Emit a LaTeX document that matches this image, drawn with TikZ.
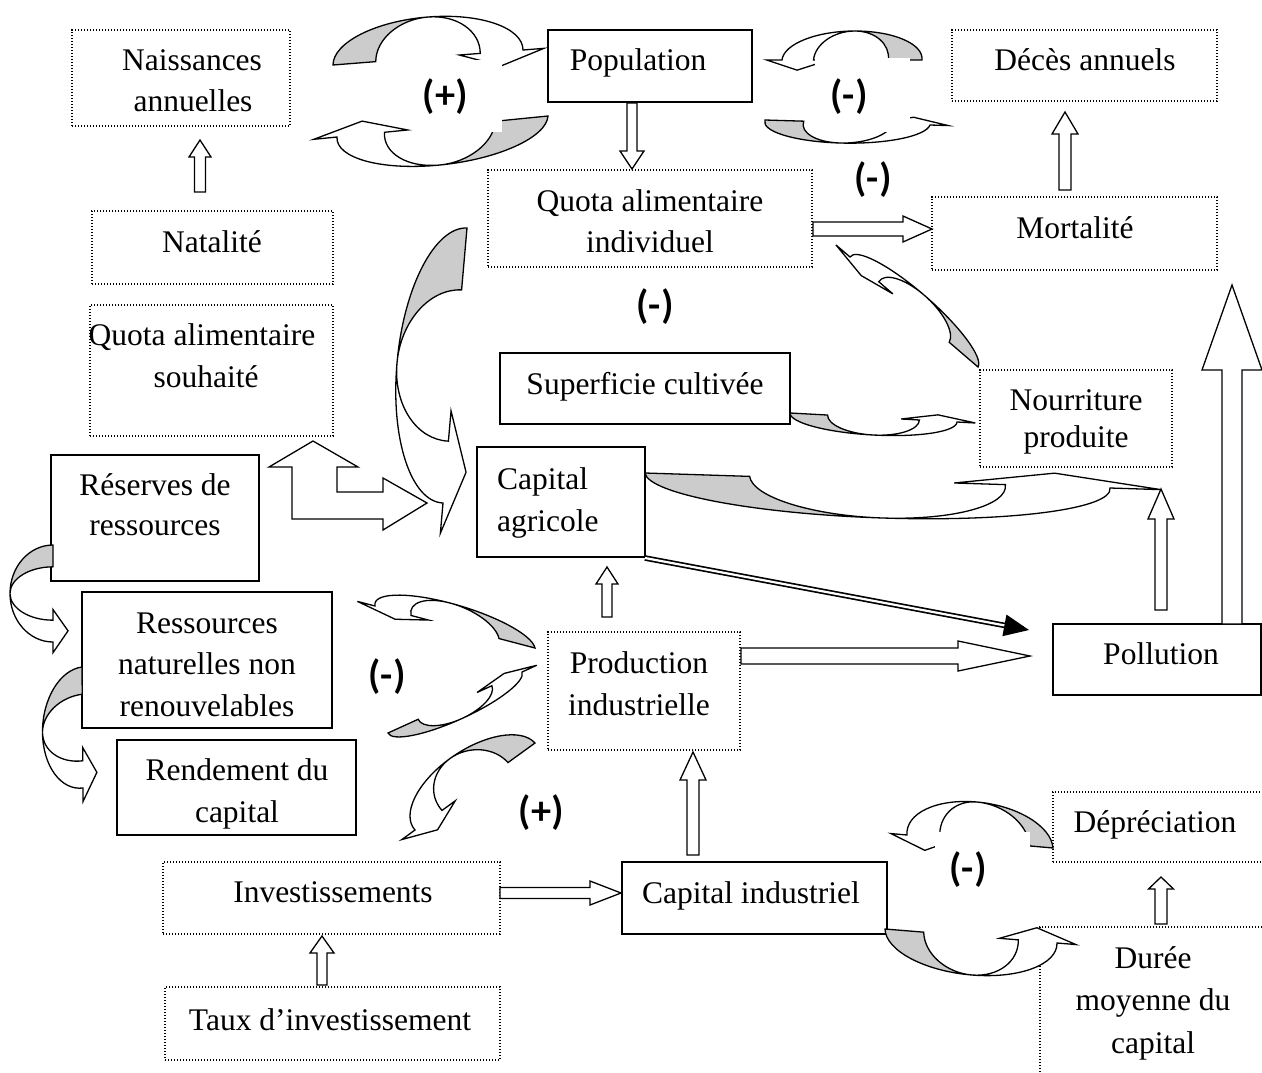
\documentclass[tikz,border=0pt]{standalone}
\usepackage{fontspec}
\setmainfont{Liberation Serif}
\newfontfamily\lblfont{Lato}
\usetikzlibrary{calc}
\definecolor{backgray}{RGB}{204,204,204}
\tikzset{
 sbox/.style={draw, line width=1.4pt, inner sep=0pt, outer sep=0pt},
 dbox/.style={draw, line width=1.3pt, dash pattern=on 1.3pt off 1.7pt, inner sep=0pt, outer sep=0pt},
 txt/.style={font=\fontsize{31.5}{41.5}\selectfont, inner sep=0pt, anchor=base},
 lbl/.style={font=\lblfont\fontsize{38}{44}\selectfont\bfseries, inner sep=0pt},
 cline/.style={line width=1.3pt, line join=miter},
 blockarr/.style={draw, fill=white, line width=1.3pt, line join=miter},
}
% box: style, x1, y1, x2, y2, name
\newcommand\bx[6]{\node[#1, minimum width={#4pt-#2pt}, minimum height={#5pt-#3pt}] (#6) at ({(#2+#4)/2},{(#3+#5)/2}) {};}
% straight block arrow: tail, tip, shaft half width, head half width, head length
\newcommand\blockarrow[5]{%
  \coordinate (ba-t) at (#1);
  \coordinate (ba-h) at (#2);
  \coordinate (ba-b) at ($(ba-h)!#5!(ba-t)$);
  \filldraw[blockarr] ($(ba-t)!#3!90:(ba-h)$) -- ($(ba-b)!#3!-90:(ba-t)$) -- ($(ba-b)!#4!-90:(ba-t)$) -- (ba-h) -- ($(ba-b)!#4!90:(ba-t)$) -- ($(ba-b)!#3!90:(ba-t)$) -- ($(ba-t)!#3!-90:(ba-h)$) -- cycle;
}
% curved (twisted) arrow: origin x, y (px), canvas matrix a b c d, inner tail position
\newcommand\carrow[7]{%
 \begin{scope}[x=1pt,y=1pt,cm={#3,#4,#5,#6,(#1pt,-#2pt)}]
  \filldraw[cline,fill=backgray] (-1,0) .. controls (-1,0.552) and (-0.552,1) .. (0,1) .. controls ({-0.552*#7},1) and ({-#7},0.552) .. ({-#7},0) -- cycle;
  \filldraw[cline,fill=white] (0,1) .. controls (0.552,1) and (1,0.552) .. (1,0) -- (1.22,0) -- (0.77,-0.35) -- (0.33,0) -- (0.55,0) .. controls (0.55,0.552) and (0.304,1) .. (0,1) -- cycle;
 \end{scope}}
\begin{document}
\begin{tikzpicture}[x=1pt,y=-1pt]
\useasboundingbox (0,0) rectangle (1262,1072);
\clip (0,0) rectangle (1262,1072);
\fill[white] (0,0) rectangle (1262,1072);

% ---------- boxes ----------
\bx{dbox}{72}{30}{290}{126}{nais}
\bx{sbox}{548}{30}{752}{102}{pop}
\bx{dbox}{952}{30}{1217}{101}{deces}
\bx{dbox}{488}{170}{812}{267}{qai}
\bx{dbox}{932}{197}{1217}{270}{mort}
\bx{dbox}{92}{211}{333}{284}{natal}
\bx{dbox}{90}{305}{333}{436}{qas}
\bx{sbox}{500}{353}{790}{424}{sup}
\bx{dbox}{980}{370}{1172}{467}{nour}
\bx{sbox}{51}{455}{259}{581}{reserv}
\bx{sbox}{477}{447}{645}{557}{cagri}
\bx{sbox}{82}{592}{332}{728}{rnnr}
\bx{dbox}{548}{632}{740}{750}{prod}
\bx{sbox}{1053}{624}{1261}{695}{pol}
\bx{sbox}{117}{740}{356}{835}{rend}
\bx{dbox}{163}{862}{500}{934}{invest}
\bx{sbox}{622}{862}{887}{934}{cind}
\bx{dbox}{1053}{792}{1300}{862}{depr}
\bx{dbox}{1040}{927}{1300}{1100}{duree}
\bx{dbox}{165}{987}{500}{1060}{taux}

% ---------- straight block arrows ----------
\blockarrow{632,103}{632,169}{5pt}{12pt}{18pt}
\blockarrow{200,192}{200,140}{5.5pt}{11pt}{17pt}
\blockarrow{1065,190}{1065,112}{6pt}{13pt}{22pt}
\blockarrow{813,229}{932,229}{7pt}{13pt}{29pt}
\blockarrow{607,617}{607,567}{5pt}{11pt}{17pt}
\blockarrow{693,855}{693,752}{6pt}{13pt}{28pt}
\blockarrow{500,893}{621,893}{5.5pt}{12pt}{31pt}
\blockarrow{322,985}{322,936}{5pt}{12pt}{17pt}
\blockarrow{1161,924}{1161,877}{6pt}{12.5pt}{12pt}
\blockarrow{741,656}{1030,656}{8pt}{15pt}{72pt}
\blockarrow{1161,610}{1161,489}{6pt}{13pt}{30pt}
\blockarrow{1232,624}{1232,285}{10pt}{30pt}{85pt}

% forked arrow
\filldraw[blockarr] (292,519) -- (292,467) -- (269,467) -- (313,441) -- (358,467) -- (337,467) -- (337,492) -- (383,492) -- (383,478) -- (427,503) -- (383,530) -- (383,519) -- cycle;

% double arrow Capital agricole -> Pollution
\coordinate (dtip) at (1029,630);
\coordinate (dstart) at ($(cagri.south east)+(0,1)$);
\draw[line width=1.7pt, double, double distance=2.2pt, shorten >=20pt] (dstart) -- (dtip);
\coordinate (dbase) at ($(dtip)!25pt!(dstart)$);
\fill ($(dbase)!11pt!90:(dtip)$) -- (dtip) -- ($(dbase)!11pt!-90:(dtip)$) -- cycle;

% ---------- curved arrows ----------
\carrow{428}{57.5}{95}{7.5}{0}{40.5}{0.55}
\carrow{442.5}{126.5}{-105.5}{-10.5}{-2.5}{-38.5}{0.5}
\carrow{852}{60}{-70}{0}{3}{29}{0.52}
\carrow{847.5}{122.5}{82.5}{-2.5}{-7.5}{-20.5}{0.53}
\carrow{914}{312}{-64}{55}{10}{17}{0.55}
\carrow{873.5}{417.5}{83.5}{-4.5}{-0.5}{-17.5}{0.55}
\carrow{455}{365.5}{-12}{-137.5}{-58}{2.5}{0.55}
\carrow{877.5}{480.5}{232.5}{-7.5}{5.5}{-37.5}{0.55}
\carrow{53}{593.5}{0}{-48.5}{-43}{0}{0.55}
\carrow{82.5}{727.5}{0.5}{-60.5}{-40}{-5}{0.55}
\carrow{455}{627}{-80}{21}{-5}{24}{0.55}
\carrow{455}{702.5}{67}{30.5}{7}{-16}{0.55}
\carrow{475}{786.5}{-60}{-43.5}{-25}{28}{0.55}
\carrow{980}{841.5}{-73}{6.5}{-3}{39.5}{0.68}
\carrow{971}{936}{86}{-7}{1}{-39}{0.55}

% white text-box backgrounds of loop labels
\fill[white] (415,60) rectangle (502,132);
\fill[white] (815,58) rectangle (910,132);
\fill[white] (935,832) rectangle (1030,920);

% ---------- loop labels ----------
\node[lbl] (l1) at (445,97) {(+)};
\node[lbl] (l2) at (849,97) {(-)};
\node[lbl] (l3) at (873,180) {(-)};
\node[lbl] (l4) at (655,307) {(-)};
\node[lbl] (l5) at (387,677) {(-)};
\node[lbl] (l6) at (541,813) {(+)};
\node[lbl] (l7) at (968,870) {(-)};

% ---------- texts ----------
\node[txt] (t1a) at (192,70) {Naissances};
\node[txt] (t1b) at (193,111) {annuelles};
\node[txt] (t2) at (638,70) {Population};
\node[txt] (t3) at (1085,70) {Décès annuels};
\node[txt] (t4a) at (650,211) {Quota alimentaire};
\node[txt] (t4b) at (650,252) {individuel};
\node[txt] (t5) at (1075,238) {Mortalité};
\node[txt] (t6) at (212,252) {Natalité};
\node[txt] (t7a) at (202,345) {Quota alimentaire};
\node[txt] (t7b) at (206,387) {souhaité};
\node[txt] (t8) at (645,394) {Superficie cultivée};
\node[txt] (t9a) at (1076,410) {Nourriture};
\node[txt] (t9b) at (1076,447) {produite};
\node[txt] (t10a) at (155,495) {Réserves de};
\node[txt] (t10b) at (155,535) {ressources};
\node[txt, anchor=base west] (t11a) at (497,489) {Capital};
\node[txt, anchor=base west] (t11b) at (497,531) {agricole};
\node[txt] (t12a) at (207,633) {Ressources};
\node[txt] (t12b) at (207,674) {naturelles non};
\node[txt] (t12c) at (207,716) {renouvelables};
\node[txt] (t13a) at (639,673) {Production};
\node[txt] (t13b) at (639,715) {industrielle};
\node[txt] (t14) at (1161,664) {Pollution};
\node[txt] (t15a) at (237,780) {Rendement du};
\node[txt] (t15b) at (237,822) {capital};
\node[txt] (t16) at (333,902) {Investissements};
\node[txt] (t17) at (751,903) {Capital industriel};
\node[txt] (t18) at (1155,832) {Dépréciation};
\node[txt] (t19a) at (1153,968) {Durée};
\node[txt] (t19b) at (1153,1010) {moyenne du};
\node[txt] (t19c) at (1153,1053) {capital};
\node[txt] (t20) at (330,1030) {Taux d’investissement};
\end{tikzpicture}
\end{document}
